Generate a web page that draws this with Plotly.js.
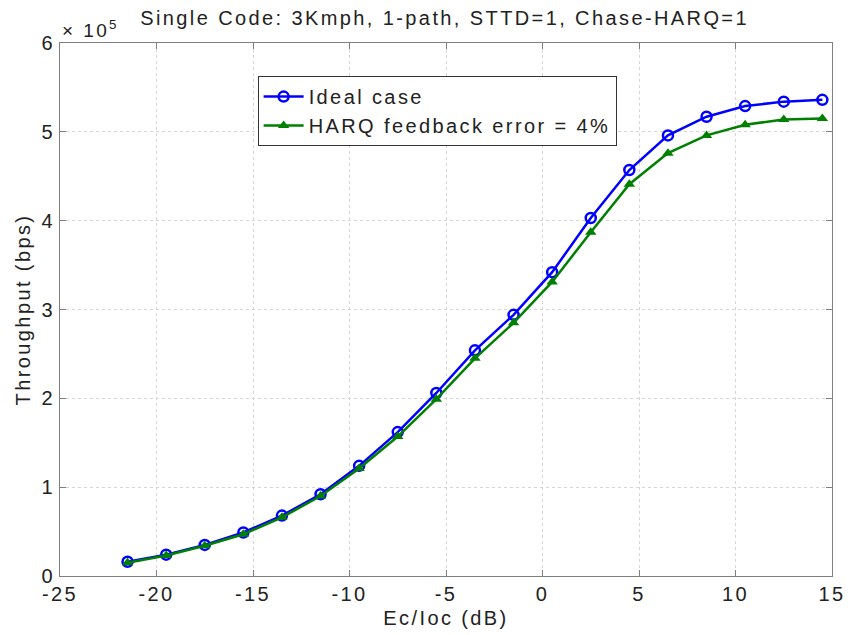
<!DOCTYPE html>
<html>
<head>
<meta charset="utf-8">
<script src="https://cdn.plot.ly/plotly-3.0.1.min.js"></script>
<style>html,body{margin:0;padding:0;background:#fff;}#chart{width:855px;height:635px;}text{letter-spacing:2.4px;}</style>
</head>
<body>
<div id="chart"></div>
<script>
var ecIoc = [-21.5, -19.5, -17.5, -15.5, -13.5, -11.5, -9.5, -7.5, -5.5, -3.5, -1.5, 0.5, 2.5, 4.5, 6.5, 8.5, 10.5, 12.5, 14.5];
var idealCase = [0.16, 0.24, 0.35, 0.49, 0.68, 0.92, 1.24, 1.62, 2.06, 2.54, 2.94, 3.42, 4.03, 4.57, 4.96, 5.17, 5.29, 5.34, 5.36];
var harqError = [0.15, 0.23, 0.34, 0.47, 0.66, 0.90, 1.21, 1.57, 1.99, 2.45, 2.85, 3.31, 3.87, 4.41, 4.76, 4.96, 5.08, 5.14, 5.15];
var seriesNames = ['Ideal case', 'HARQ feedback error = 4%'];
var xTicks = [-25, -20, -15, -10, -5, 0, 5, 10, 15];
var yTicks = [0, 1, 2, 3, 4, 5, 6];

var font = 'Liberation Sans, Arial, sans-serif';
var fs = 20;
var traces = [
  {x: ecIoc, y: idealCase, name: seriesNames[0], mode: 'lines+markers',
   line: {color: '#0000ff', width: 2.5},
   marker: {symbol: 'circle-open', size: 10, color: '#0000ff', line: {width: 2.5, color: '#0000ff'}}},
  {x: ecIoc, y: harqError, name: seriesNames[1], mode: 'lines+markers',
   line: {color: '#008000', width: 2.5},
   marker: {symbol: 'triangle-up', size: 10, color: '#008000'}}
];
var layout = {
  width: 855, height: 635,
  margin: {l: 60, r: 23, t: 43, b: 59},
  paper_bgcolor: '#fff', plot_bgcolor: '#fff',
  font: {family: font, size: fs, color: '#000'},
  showlegend: true,
  title: {text: 'Single Code: 3Kmph, 1-path, STTD=1, Chase-HARQ=1', x: 0.52, xanchor: 'center', y: 0.972, yanchor: 'middle', font: {size: fs, family: font, color: '#222'}},
  legend: {x: 0.256, y: 0.938, xanchor: 'left', yanchor: 'top', bgcolor: '#fff', bordercolor: '#333', borderwidth: 1, font: {size: fs, family: font, color: '#222'}, tracegroupgap: 0, itemwidth: 40},
  xaxis: {
    range: [-25, 15], tickvals: xTicks, ticktext: xTicks.map(String),
    tickfont: {size: fs, color: '#222'},
    showgrid: true, gridcolor: '#d6d6d6', griddash: 'dot', gridwidth: 1,
    zeroline: false, showline: true, linecolor: '#808080', linewidth: 1, mirror: 'ticks',
    ticks: 'inside', ticklen: 6, tickcolor: '#808080',
    title: {text: 'Ec/Ioc (dB)', standoff: 6, font: {size: fs, color: '#222'}}
  },
  yaxis: {
    range: [0, 6], tickvals: yTicks, ticktext: yTicks.map(String),
    tickfont: {size: fs, color: '#222'},
    showgrid: true, gridcolor: '#d6d6d6', griddash: 'dot', gridwidth: 1,
    zeroline: false, showline: true, linecolor: '#808080', linewidth: 1, mirror: 'ticks',
    ticks: 'inside', ticklen: 6, tickcolor: '#808080',
    title: {text: 'Throughput (bps)', standoff: 5, font: {size: fs, color: '#222'}}
  },
  annotations: [
    {xref: 'paper', yref: 'paper', x: 0.0, y: 1.0, xanchor: 'left', yanchor: 'bottom', yshift: 0, showarrow: false,
     text: '× 10<sup>5</sup>', font: {size: 19, family: font, color: '#222'}}
  ]
};
Plotly.newPlot('chart', traces, layout, {displayModeBar: false, staticPlot: true});
</script>
</body>
</html>
